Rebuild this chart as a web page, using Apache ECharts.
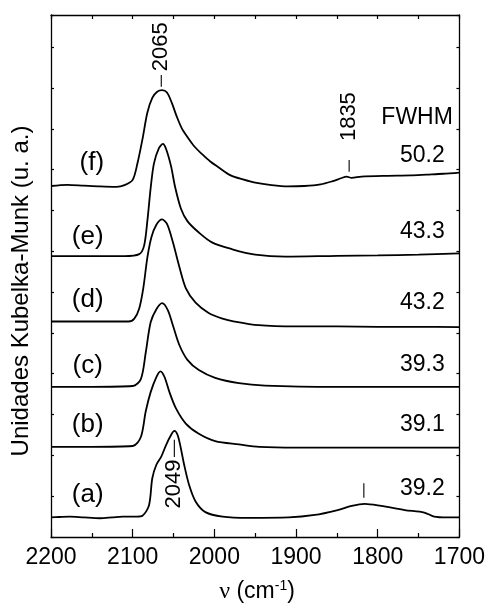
<!DOCTYPE html>
<html>
<head>
<meta charset="utf-8">
<script src="https://cdn.jsdelivr.net/npm/echarts@6/dist/echarts.min.js"></script>
<style>
  html, body { margin: 0; padding: 0; background: #ffffff; }
  #chart { width: 488px; height: 608px; }
</style>
</head>
<body>
<div id="chart"></div>
<script>
// ---- data -------------------------------------------------------------
// Wavenumber range (cm^-1), plotted from high to low
const xRange = [1700, 2200];

// DRIFT spectra, stacked: [wavenumber, Kubelka-Munk units incl. vertical offset]
const specA = [
  [2200,0.48],[2190,0.49],[2177,0.50],[2160,0.48],[2140,0.46],[2125,0.48],[2112,0.50],
  [2095,0.50],[2088,0.52],[2080,0.78],[2076,1.44],[2071,1.77],[2065,1.97],[2059,2.26],
  [2053,2.50],[2049,2.60],[2045,2.50],[2041,2.17],[2037,1.77],[2031,1.28],[2023,0.87],
  [2011,0.61],[1990,0.50],[1958,0.47],[1909,0.48],[1877,0.54],[1849,0.66],[1832,0.76],
  [1816,0.81],[1796,0.76],[1767,0.66],[1743,0.60],[1731,0.50],[1715,0.48],[1700,0.48]
];
const specB = [
  [2200,2.21],[2150,2.21],[2100,2.23],[2090,2.45],[2084,3.08],[2078,3.55],[2071,3.92],
  [2066,4.06],[2061,3.92],[2055,3.55],[2047,3.15],[2035,2.78],[2019,2.53],[1999,2.35],
  [1970,2.27],[1945,2.21],[1900,2.19],[1850,2.19],[1808,2.19],[1750,2.19],[1700,2.19]
];
const specC = [
  [2200,3.68],[2150,3.68],[2100,3.70],[2090,3.87],[2084,4.52],[2078,5.26],[2071,5.58],
  [2064,5.73],[2057,5.56],[2051,5.20],[2043,4.71],[2033,4.34],[2019,4.09],[1999,3.90],
  [1970,3.77],[1938,3.71],[1850,3.68],[1800,3.68],[1750,3.68],[1700,3.68]
];
const specD = [
  [2200,5.28],[2150,5.28],[2105,5.28],[2098,5.35],[2092,5.60],[2087,6.10],[2082,6.85],
  [2077,7.35],[2071,7.65],[2064,7.78],[2058,7.67],[2051,7.24],[2043,6.63],[2035,6.10],
  [2023,5.74],[2007,5.49],[1990,5.35],[1978,5.29],[1946,5.19],[1900,5.16],[1850,5.16],
  [1800,5.15],[1750,5.15],[1700,5.14]
];
const specE = [
  [2200,6.88],[2150,6.88],[2110,6.88],[2092,6.93],[2086,7.14],[2082,7.75],[2078,8.55],
  [2074,9.15],[2068,9.52],[2063,9.63],[2059,9.50],[2053,9.08],[2048,8.57],[2041,8.05],
  [2033,7.74],[2019,7.46],[2003,7.22],[1978,7.05],[1950,6.92],[1913,6.87],[1850,6.89],
  [1800,6.90],[1750,6.92],[1700,6.95]
];
const specF = [
  [2200,8.60],[2180,8.63],[2160,8.61],[2140,8.59],[2120,8.58],[2110,8.62],[2100,8.75],
  [2094,9.17],[2088,9.75],[2082,10.40],[2076,10.76],[2070,10.91],[2064,10.95],[2058,10.89],
  [2052,10.63],[2046,10.30],[2040,10.02],[2033,9.80],[2025,9.58],[2015,9.38],[2005,9.20],
  [1995,9.06],[1980,8.86],[1965,8.76],[1950,8.68],[1930,8.62],[1910,8.59],[1890,8.60],
  [1870,8.64],[1855,8.72],[1845,8.79],[1838,8.83],[1832,8.80],[1820,8.83],[1790,8.85],
  [1760,8.86],[1740,8.88],[1720,8.90],[1700,8.93]
];
const spectra = [specA, specB, specC, specD, specE, specF];

// Sample tags and band widths (FWHM, cm^-1)
const tags = ['(a)', '(b)', '(c)', '(d)', '(e)', '(f)'];
const fwhm = ['39.2', '39.1', '39.3', '43.2', '43.3', '50.2'];
const fwhmHeader = 'FWHM';

// Band positions marked on the spectra (cm^-1)
const bandLabels = ['2065', '2049', '1835'];
const bandWavenumbers = [2065, 2049, 1835];
const extraBandTick = 1817;

// ---- layout (data coordinates for annotations) ------------------------
const layout = {
  tagX: [2155, 2155, 2155, 2155, 2155, 2150],
  tagY: [1.03, 2.75, 4.19, 5.81, 7.35, 9.17],
  fwhmX: 1718,
  fwhmY: [1.18, 2.75, 4.22, 5.74, 7.48, 9.34],
  headerX: 1708, headerY: 10.27,
  // per band: dash span and text centre (y, data units)
  bands: [
    { dash: [11.03, 11.32], text: 12.01 },
    { dash: [1.96, 2.38], text: 1.30 },
    { dash: [8.95, 9.24], text: 10.30 }
  ],
  extraTick: [0.96, 1.32]
};

const FONT = 'Liberation Sans, Arial, Helvetica, sans-serif';
const yMax = 12.79;

const chart = echarts.init(document.getElementById('chart'), null, { renderer: 'canvas' });

const frame = { show: true, onZero: false, lineStyle: { color: '#000', width: 1.3 } };

chart.setOption({
  animation: false,
  backgroundColor: '#ffffff',
  grid: { left: 51, right: 26, top: 15, bottom: 71, containLabel: false },
  xAxis: [
    {
      type: 'value', position: 'bottom', inverse: true,
      min: xRange[0], max: xRange[1], interval: 100,
      axisLine: frame,
      axisTick: { show: true, inside: true, length: 8, lineStyle: { color: '#000', width: 1.2 } },
      minorTick: { show: true, splitNumber: 2, length: 4, lineStyle: { color: '#000', width: 1.2 } },
      splitLine: { show: false },
      axisLabel: {
        show: true, margin: 9, color: '#000', fontSize: 23, fontFamily: FONT,
        formatter: v => String(v)
      }
    },
    {
      type: 'value', position: 'top', inverse: true,
      min: xRange[0], max: xRange[1], interval: 50,
      axisLine: frame,
      axisTick: { show: true, inside: true, length: 4, lineStyle: { color: '#000', width: 1.2 } },
      splitLine: { show: false },
      axisLabel: { show: false }
    }
  ],
  yAxis: [
    {
      type: 'value', position: 'left', min: 0, max: yMax, interval: 1,
      axisLine: frame,
      axisTick: { show: true, inside: true, length: 3, lineStyle: { color: '#000', width: 1.2 } },
      splitLine: { show: false }, axisLabel: { show: false }
    },
    {
      type: 'value', position: 'right', min: 0, max: yMax, interval: 1,
      axisLine: frame,
      axisTick: { show: true, inside: true, length: 3, lineStyle: { color: '#000', width: 1.2 } },
      splitLine: { show: false }, axisLabel: { show: false }
    }
  ],
  series: spectra.map((s, i) => ({
    name: tags[i],
    type: 'line',
    xAxisIndex: 0, yAxisIndex: 0,
    data: s,
    showSymbol: false,
    smooth: 0.3,
    lineStyle: { color: '#000', width: 1.8 },
    z: 3
  }))
});

// ---- annotations --------------------------------------------------------
const px = (x, y) => chart.convertToPixel({ seriesIndex: 0 }, [x, y]);
const graphics = [];

const text = (t, p, opts = {}) => ({
  type: 'text',
  x: p[0], y: p[1],
  rotation: opts.rotation || 0,
  z: 10,
  style: Object.assign({
    text: t, x: 0, y: 0, fill: '#000',
    font: (opts.size || 23) + 'px ' + FONT,
    textAlign: opts.align || 'center', align: opts.align || 'center',
    textVerticalAlign: 'middle', verticalAlign: 'middle'
  }, opts.style || {})
});
const seg = (a, b) => ({
  type: 'line', z: 10,
  shape: { x1: a[0], y1: a[1], x2: b[0], y2: b[1] },
  style: { stroke: '#000', lineWidth: 1.1 }
});

tags.forEach((t, i) => graphics.push(text(t, px(layout.tagX[i], layout.tagY[i]), { size: 26 })));
fwhm.forEach((t, i) => graphics.push(text(t, px(layout.fwhmX, layout.fwhmY[i]), { align: 'right' })));
graphics.push(text(fwhmHeader, px(layout.headerX, layout.headerY), { align: 'right' }));

bandLabels.forEach((t, i) => {
  const b = layout.bands[i];
  const wn = bandWavenumbers[i];
  graphics.push(seg(px(wn, b.dash[0]), px(wn, b.dash[1])));
  graphics.push(text(t, px(wn, b.text), { rotation: Math.PI / 2, size: 22 }));
});
graphics.push(seg(px(extraBandTick, layout.extraTick[0]), px(extraBandTick, layout.extraTick[1])));

// axis titles
graphics.push(text('Unidades Kubelka-Munk (u. a.)', [21, 291], { rotation: Math.PI / 2, size: 24 }));
graphics.push({
  type: 'text', x: 257, y: 592, z: 10,
  style: {
    text: '{n|ν} (cm{s|-1})',
    x: 0, y: 0, fill: '#000',
    font: '23px ' + FONT,
    textAlign: 'center', align: 'center',
    textVerticalAlign: 'middle', verticalAlign: 'middle',
    rich: {
      n: { fontFamily: 'Liberation Serif, Times New Roman, serif', fontSize: 24, lineHeight: 26 },
      s: { fontSize: 14, fontFamily: FONT, verticalAlign: 'top', lineHeight: 26 }
    }
  }
});

chart.setOption({ graphic: graphics });
</script>
</body>
</html>
